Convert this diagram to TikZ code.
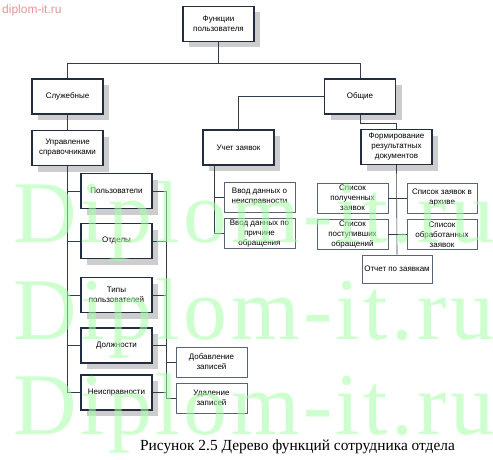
\documentclass[tikz,border=0pt]{standalone}
\usepackage{fontspec}
\setmainfont{Liberation Serif}
\setsansfont{Liberation Sans}
\newfontfamily\wmfont[LetterSpace=4]{Liberation Serif}
\usetikzlibrary{shadows}

\definecolor{boxline}{RGB}{35,45,65}
\definecolor{thinline}{RGB}{90,100,120}
\definecolor{wirecol}{RGB}{50,60,80}
\definecolor{shadowgray}{RGB}{205,205,205}
\definecolor{wmgreen}{RGB}{165,255,165}
\definecolor{wmred}{RGB}{230,150,150}

\begin{document}
\begin{tikzpicture}[x=1pt, y=-1pt,
    func/.style={draw=boxline, line width=1.3pt, fill=white, minimum width=71pt, minimum height=35pt,
        inner sep=1pt, align=center, font=\sffamily\fontsize{8}{10}\selectfont,
        general shadow={fill=shadowgray, shadow xshift=6pt, shadow yshift=-6pt}},
    leaf/.style={draw=thinline, line width=0.6pt, fill=white, minimum width=71pt, minimum height=30pt,
        inner sep=1pt, align=center, font=\sffamily\fontsize{8}{10}\selectfont},
    wire/.style={draw=wirecol, line width=0.6pt},
    mark wm/.style={anchor=base west, inner sep=0, text=wmgreen, text opacity=0.55,
        font=\wmfont\fontsize{88}{88}\selectfont}]

    \useasboundingbox (0,0) rectangle (493,460);

    % Draw main levels
    \node [func] (F) at (218.5,24) {Функции\\пользователя};
    \node [func] (S) at (67.5,96.5) {Служебные};
    \node [func] (O) at (360,96.5) {Общие};

    % Draw second level
    \node [func] (Up) at (67.5,148) {Управление\\справочниками};
    \node [func] (U) at (238.5,147.5) {Учет заявок};
    \node [func] (Fm) at (396.5,147) {Формирование\\результатных\\документов};

    % Draw reference books
    \node [func] (P) at (116.5,191) {Пользователи};
    \node [func] (Otd) at (116.5,241) {Отделы};
    \node [func] (T) at (116.5,295) {Типы\\пользователей};
    \node [func] (D) at (116.5,345.5) {Должности};
    \node [func] (N) at (116.5,392.5) {Неисправности};

    % Draw leaves
    \node [leaf] (Dob) at (211.5,362) {Добавление\\записей};
    \node [leaf] (Ud) at (211.5,398) {Удаление\\записей};
    \node [leaf] (V1) at (259.5,197) {Ввод данных о\\неисправности};
    \node [leaf] (V2) at (259.5,233.5) {Ввод данных по\\причине\\обращения};
    \node [leaf] (L1) at (352.5,198) {Список\\полученных\\заявок};
    \node [leaf, minimum width=70pt] (L2) at (442,198) {Список заявок в\\архиве};
    \node [leaf] (L3) at (352.5,234.5) {Список\\поступивших\\обращений};
    \node [leaf, minimum width=70pt] (L4) at (442,234.5) {Список\\обработанных\\заявок};
    \node [leaf, minimum width=70pt, minimum height=28pt] (R) at (397,269) {Отчет по заявкам};

    % Draw connectors
    \draw [wire] (F.south) -- ++(0,21) -| (S.north);
    \draw [wire] (F.south) -- ++(0,21) -| (O.north);
    \draw [wire] (S.south) -- (Up.north);
    \draw [wire] (O.west) -| (U.north);
    \draw [wire] (O.south) -- ++(0,9) -| (Fm.north);

    \foreach \n in {P,Otd,T,D,N}
        \draw [wire] (Up.south) |- (\n.west);

    \draw [wire] (P.east) -- ++(14,0) coordinate (b1);
    \draw [wire] (b1) |- (Ud.west);
    \draw [wire] (b1) |- (Dob.west);
    \foreach \n in {Otd,T,D,N}
        \draw [wire] (\n.east) -- (\n.east -| b1);

    \draw [wire] (V2.west) -- ++(-9,0) coordinate (b2) -- (b2 |- U.south);
    \draw [wire] (V1.west) -- (V1.west -| b2);

    \draw [wire] (Fm.south) -- (R.north);
    \draw [wire] (L1.east) -- (L2.west);
    \draw [wire] (L3.east) -- (L4.west);

    % Draw caption
    \node [font=\fontsize{15.4}{17}\selectfont] (cap) at (297.5,447) {Рисунок 2.5 Дерево функций сотрудника отдела};

    % Draw watermark
    \node [mark wm] (wm1) at (13,242) {Diplom-it.ru};
    \node [mark wm] (wm2) at (13,339) {Diplom-it.ru};
    \node [mark wm] (wm3) at (13,434) {Diplom-it.ru};
    \node [anchor=base west, inner sep=0, text=wmred, font=\sffamily\fontsize{12}{12}\selectfont] (site) at (2,14) {diplom-it.ru};

\end{tikzpicture}
\end{document}
